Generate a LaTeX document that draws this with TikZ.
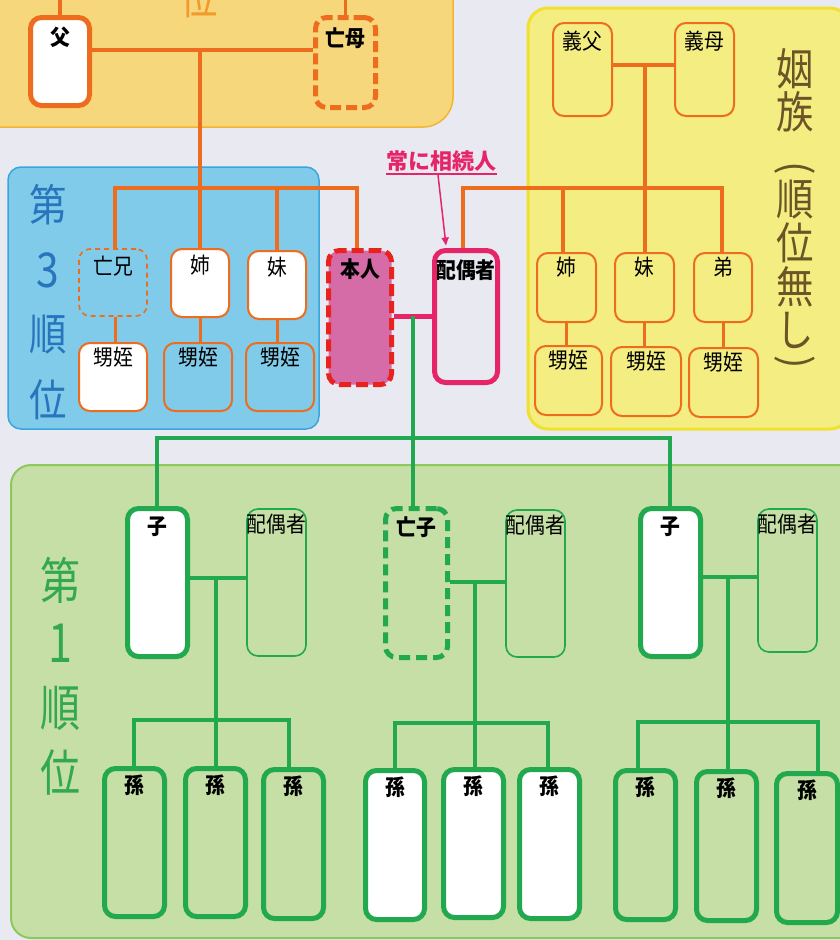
\documentclass[tikz,border=0pt]{standalone}
\usepackage{fontspec}
\newfontfamily\jp{Noto Sans CJK JP}
\usetikzlibrary{fit,arrows.meta}
\definecolor{bgc}{HTML}{E9E9F2}
\definecolor{orl}{HTML}{EE6C1E}
\definecolor{orf}{HTML}{F6D77C}
\definecolor{orb}{HTML}{F2B632}
\definecolor{blf}{HTML}{80CBEA}
\definecolor{blb}{HTML}{3AA5DC}
\definecolor{blt}{HTML}{2775BC}
\definecolor{ylf}{HTML}{F4EE82}
\definecolor{ylb}{HTML}{F0E030}
\definecolor{brt}{HTML}{6B5526}
\definecolor{grf}{HTML}{C5DFA6}
\definecolor{grb}{HTML}{8DC85A}
\definecolor{grl}{HTML}{22A84F}
\definecolor{grt}{HTML}{32A852}
\definecolor{pk}{HTML}{E62468}
\definecolor{rd}{HTML}{E8221E}
\definecolor{hf}{HTML}{D56CA8}
\definecolor{ort}{HTML}{F39A2B}
\begin{document}
\begin{tikzpicture}[x=1pt,y=-1pt,
 bx/.style={rectangle, inner sep=0pt, rounded corners=11pt},
 othk/.style={bx, draw=orl, line width=5pt},
 othn/.style={bx, draw=orl, line width=2pt},
 odsh/.style={bx, draw=orl, line width=5pt, dash pattern=on 11pt off 5pt},
 odthn/.style={bx, draw=orl, line width=1.6pt, dash pattern=on 5pt off 4pt},
 gthk/.style={bx, draw=grl, line width=5pt},
 gthn/.style={bx, draw=grl, line width=1.6pt},
 gdsh/.style={bx, draw=grl, line width=5pt, dash pattern=on 11pt off 6pt},
 lbl/.style={font=\jp\fontsize{22}{22}\selectfont, inner sep=0pt, text=black, xscale=0.9},
 lblb/.style={font=\jp\bfseries\fontsize{22}{22}\selectfont, inner sep=0pt, text=black, xscale=0.9},
 head/.style={font=\jp\fontsize{44}{44}\selectfont, inner sep=0pt, xscale=0.85},
 headg/.style={font=\jp\fontsize{50}{50}\selectfont, inner sep=0pt, xscale=0.8, text=grt},
 paren/.style={font=\jp\fontsize{40}{40}\selectfont, inner sep=0pt, text=brt, rotate=-90},
 oln/.style={draw=orl, line width=3.5pt},
 oln2/.style={draw=orl, line width=3pt},
 gln/.style={draw=grl, line width=4pt},
]
\useasboundingbox (0,0) rectangle (840,940);
\clip (0,0) rectangle (840,940);
\fill[bgc] (0,0) rectangle (840,940);
% regions
\filldraw[fill=orf, draw=orb, line width=1.5pt, rounded corners=30pt] (-40,-40) rectangle (453,127);
\filldraw[fill=blf, draw=blb, line width=1.5pt, rounded corners=13pt] (8,167) rectangle (319,429);
\filldraw[fill=ylf, draw=ylb, line width=3pt, rounded corners=20pt] (528,8) rectangle (850,429);
\filldraw[fill=grf, draw=grb, line width=2pt, rounded corners=20pt] (11,465) rectangle (860,938);
% headings
\node[head, text=ort] (h2) at (199,-2) {位};
\node[head, text=blt] (h3a) at (48,205) {第};
\node[head, text=blt, font=\jp\fontsize{48}{48}\selectfont] (h3b) at (48,270) {3};
\node[head, text=blt] (h3c) at (48,335) {順};
\node[head, text=blt] (h3d) at (48,400) {位};
\node[headg] (h1a) at (60,580) {第};
\node[headg, font=\jp\fontsize{54}{54}\selectfont] (h1b) at (60,643) {1};
\node[headg] (h1c) at (60,708) {順};
\node[headg] (h1d) at (60,772) {位};
\node[head, text=brt] (hya) at (795,69) {姻};
\node[head, text=brt] (hyb) at (795,112) {族};
\node[paren] (hyc) at (795,168) {(};
\node[head, text=brt] (hyd) at (795,200) {順};
\node[head, text=brt] (hye) at (795,243) {位};
\node[head, text=brt] (hyf) at (795,287) {無};
\node[head, text=brt] (hyg) at (795,330) {し};
\node[paren] (hyh) at (795,362) {)};
% coordinates
\coordinate (pj) at (200,50);
\coordinate (sib) at (200,188);
\coordinate (sL) at (115,188);
\coordinate (sR) at (357,188);
\coordinate (sp) at (463,188);
\coordinate (yA) at (563,188);
\coordinate (yB) at (645,188);
\coordinate (yC) at (722,188);
\coordinate (gj) at (645,65);
\coordinate (mj) at (413,316);
\coordinate (cL) at (157,438);
\coordinate (cM) at (413,438);
\coordinate (cR) at (670,438);
\coordinate (fL) at (216,578);
\coordinate (gL1) at (134,720);
\coordinate (gL2) at (216,720);
\coordinate (gL3) at (289,720);
\coordinate (fM) at (475,582);
\coordinate (gM1) at (395,723);
\coordinate (gM2) at (475,723);
\coordinate (gM3) at (548,723);
\coordinate (fR) at (728,577);
\coordinate (gR1) at (638,722);
\coordinate (gR2) at (728,722);
\coordinate (gR3) at (818,722);
\coordinate (ulL) at (386,174);
\coordinate (ulR) at (497,174);
\coordinate (ulA) at (438,175);
% ---- nodes: parents
\node[othk, fill=white, fit={(30.5,17.5) (89.5,105.5)}] (fu) {};
\node[odsh, fit={(315.5,17.5) (375.5,107.5)}] (bo) {};
% siblings
\node[odthn, fit={(79,249) (147,316)}] (ani) {};
\node[othn, fill=white, fit={(171,249) (229,317)}] (ane) {};
\node[othn, fill=white, fit={(248,251) (306,319)}] (imo) {};
\node[othn, fill=white, fit={(79,343) (147,411)}] (oi1) {};
\node[othn, fit={(164,343) (232,411)}] (oi2) {};
\node[othn, fit={(246,343) (314,411)}] (oi3) {};
% self and spouse
\node[bx, fill=hf, draw=rd, line width=5pt, dash pattern=on 12pt off 5pt, fit={(328.5,250.5) (391.5,384.5)}] (hon) {};
\node[bx, draw=pk, line width=5pt, fit={(434.5,250.5) (497.5,382.5)}] (hai) {};
% in-laws
\node[othn, fit={(553,23) (612,116)}] (gf) {};
\node[othn, fit={(675,23) (734,116)}] (gm) {};
\node[othn, fit={(537,253) (596,322)}] (yane) {};
\node[othn, fit={(615,253) (674,322)}] (yimo) {};
\node[othn, fit={(694,253) (752,322)}] (yoto) {};
\node[othn, fit={(535,346) (602,415)}] (yoi1) {};
\node[othn, fit={(611,347) (681,416)}] (yoi2) {};
\node[othn, fit={(689,348) (758,417)}] (yoi3) {};
% children
\node[gthk, fill=white, fit={(127.5,508.5) (187.5,656.5)}] (koL) {};
\node[gthn, fit={(247,509) (306,656)}] (spL) {};
\node[gdsh, fit={(385.5,508.5) (447.5,657.5)}] (koM) {};
\node[gthn, fit={(506,510) (565,657)}] (spM) {};
\node[gthk, fill=white, fit={(640.5,508.5) (700.5,656.5)}] (koR) {};
\node[gthn, fit={(758,509) (817,652)}] (spR) {};
% grandchildren
\node[gthk, fit={(104.5,768.5) (164.5,916.5)}] (m1) {};
\node[gthk, fit={(185.5,768.5) (245.5,916.5)}] (m2) {};
\node[gthk, fit={(263.5,769.5) (323.5,918.5)}] (m3) {};
\node[gthk, fill=white, fit={(365.5,770.5) (424.5,919.5)}] (m4) {};
\node[gthk, fill=white, fit={(443.5,769.5) (503.5,917.5)}] (m5) {};
\node[gthk, fill=white, fit={(519.5,769.5) (579.5,918.5)}] (m6) {};
\node[gthk, fit={(615.5,770.5) (675.5,919.5)}] (m7) {};
\node[gthk, fit={(696.5,771.5) (756.5,920.5)}] (m8) {};
\node[gthk, fit={(776.5,773.5) (837.5,922.5)}] (m9) {};
% ---- connectors
% parents
\draw[oln] (fu.north) -- (fu.north |- 0,-5);
\draw[oln] (bo.north) -- (bo.north |- 0,-5);
\draw[oln] (fu.east |- pj) -- (bo.west |- pj);
\draw[oln] (pj) -- (sib) -- (sib |- ane.north);
\draw[oln] (sL |- ani.north) -- (sL) -- (sR) -- (sR |- hon.north);
\draw[oln] (imo.north |- sL) -- (imo.north);
\draw[oln2] (sL |- ani.south) -- (sL |- oi1.north);
\draw[oln2] (ane.south) -- (ane.south |- oi2.north);
\draw[oln2] (imo.south) -- (imo.south |- oi3.north);
% spouse to in-laws
\draw[oln] (sp |- hai.north) -- (sp) -- (yC) -- (yC |- yoto.north);
\draw[oln] (gf.east |- gj) -- (gm.west |- gj);
\draw[oln] (gj) -- (yB) -- (yB |- yimo.north);
\draw[oln] (yA) -- (yA |- yane.north);
\draw[oln2] (yane.south) -- (yane.south |- yoi1.north);
\draw[oln2] (yimo.south) -- (yimo.south |- yoi2.north);
\draw[oln2] (yoto.south) -- (yoto.south |- yoi3.north);
% marriage
\draw[pk, line width=5pt] (hon.east |- mj) -- (hai.west |- mj);
% children
\draw[gln] (mj) -- (cM) -- (cM |- koM.north);
\draw[gln] (cL |- koL.north) -- (cL) -- (cR) -- (cR |- koR.north);
\draw[gln] (koL.east |- fL) -- (spL.west |- fL);
\draw[gln] (fL) -- (gL2) -- (gL2 |- m2.north);
\draw[gln] (gL1 |- m1.north) -- (gL1) -- (gL3) -- (gL3 |- m3.north);
\draw[gln] (koM.east |- fM) -- (spM.west |- fM);
\draw[gln] (fM) -- (gM2) -- (gM2 |- m5.north);
\draw[gln] (gM1 |- m4.north) -- (gM1) -- (gM3) -- (gM3 |- m6.north);
\draw[gln] (koR.east |- fR) -- (spR.west |- fR);
\draw[gln] (fR) -- (gR2) -- (gR2 |- m8.north);
\draw[gln] (gR1 |- m7.north) -- (gR1) -- (gR3) -- (gR3 |- m9.north);
% ---- labels
\node[lblb] (t-fu) at ([yshift=-22pt]fu.north) {父};
\node[lblb] (t-bo) at ([yshift=-23pt]bo.north) {亡母};
\node[lbl] (t-ani) at ([yshift=-18pt]ani.north) {亡兄};
\node[lbl] (t-ane) at ([yshift=-17pt]ane.north) {姉};
\node[lbl] (t-imo) at ([yshift=-17pt]imo.north) {妹};
\node[lbl] (t-oi1) at ([yshift=-15pt]oi1.north) {甥姪};
\node[lbl] (t-oi2) at ([yshift=-15pt]oi2.north) {甥姪};
\node[lbl] (t-oi3) at ([yshift=-15pt]oi3.north) {甥姪};
\node[lblb] (t-hon) at ([yshift=-21pt]hon.north) {本人};
\node[lblb] (t-hai) at ([yshift=-22pt]hai.north) {配偶者};
\node[lbl] (t-gf) at ([yshift=-19pt]gf.north) {義父};
\node[lbl] (t-gm) at ([yshift=-19pt]gm.north) {義母};
\node[lbl] (t-yane) at ([yshift=-15pt]yane.north) {姉};
\node[lbl] (t-yimo) at ([yshift=-15pt]yimo.north) {妹};
\node[lbl] (t-yoto) at ([yshift=-15pt]yoto.north) {弟};
\node[lbl] (t-yoi1) at ([yshift=-15pt]yoi1.north) {甥姪};
\node[lbl] (t-yoi2) at ([yshift=-15pt]yoi2.north) {甥姪};
\node[lbl] (t-yoi3) at ([yshift=-15pt]yoi3.north) {甥姪};
\node[lblb] (t-koL) at ([yshift=-21pt]koL.north) {子};
\node[lbl] (t-spL) at ([yshift=-16pt]spL.north) {配偶者};
\node[lblb] (t-koM) at ([yshift=-21pt]koM.north) {亡子};
\node[lbl] (t-spM) at ([yshift=-16pt]spM.north) {配偶者};
\node[lblb] (t-koR) at ([yshift=-21pt]koR.north) {子};
\node[lbl] (t-spR) at ([yshift=-16pt]spR.north) {配偶者};
\foreach \m in {m1,m2,m3,m4,m5,m6,m7,m8,m9}{
  \node[lblb] (t-\m) at ([yshift=-19pt]\m.north) {孫};
}
% always heir note
\node[font=\jp\bfseries\fontsize{22}{22}\selectfont, text=pk, inner sep=0pt] (always) at (441,161) {常に相続人};
\draw[pk, line width=1.5pt] (ulL) -- (ulR);
\draw[pk, line width=1.5pt, -{Triangle[length=8pt,width=7pt]}] (ulA) -- ([xshift=-20pt,yshift=2.5pt]hai.north);
\end{tikzpicture}
\end{document}
